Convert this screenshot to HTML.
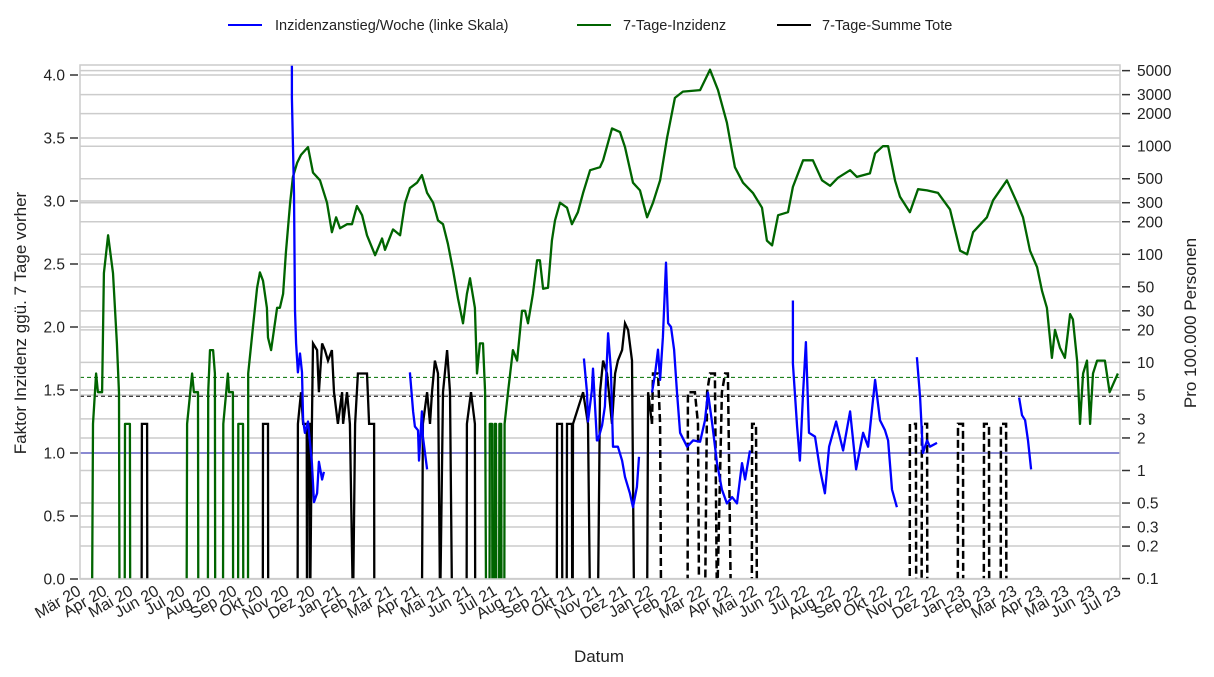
<!DOCTYPE html>
<html><head><meta charset="utf-8"><style>
html,body{margin:0;padding:0;background:#fff;}
svg{display:block;font-family:"Liberation Sans",Arial,sans-serif;}
</style></head><body>
<svg id="chart" width="1214" height="677" viewBox="0 0 1214 677" xmlns="http://www.w3.org/2000/svg">
<defs><clipPath id="clip"><rect x="80" y="65" width="1040" height="514"/></clipPath></defs>
<g id="grid"></g>
<g id="series" clip-path="url(#clip)"></g>
<rect x="80" y="65" width="1040" height="514" fill="none" stroke="#cccccc" stroke-width="1.5"/>
<g id="axes"></g>
<g>
 <g><line x1="228" y1="25" x2="262" y2="25" stroke="#0000ff" stroke-width="2"/><text x="275" y="30" font-size="14.5" fill="#222">Inzidenzanstieg/Woche (linke Skala)</text></g>
 <g><line x1="577" y1="25" x2="611" y2="25" stroke="#006400" stroke-width="2"/><text x="623" y="30" font-size="14.5" fill="#222">7-Tage-Inzidenz</text></g>
 <g><line x1="777" y1="25" x2="811" y2="25" stroke="#000" stroke-width="2"/><text x="822" y="30" font-size="14.5" fill="#222">7-Tage-Summe Tote</text></g>
</g>
<text x="599" y="662" font-size="17" text-anchor="middle" fill="#222">Datum</text>
<text transform="translate(26,323) rotate(-90)" font-size="17" text-anchor="middle" fill="#222">Faktor Inzidenz ggü. 7 Tage vorher</text>
<text transform="translate(1196,323) rotate(-90)" font-size="17" text-anchor="middle" fill="#222">Pro 100.000 Personen</text>
</svg>
<script>
const monthLabels = ["Mär 20","Apr 20","Mai 20","Jun 20","Jul 20","Aug 20","Sep 20","Okt 20","Nov 20","Dez 20","Jan 21","Feb 21","Mar 21","Apr 21","Mai 21","Jun 21","Jul 21","Aug 21","Sep 21","Okt 21","Nov 21","Dez 21","Jan 22","Feb 22","Mar 22","Apr 22","Mai 22","Jun 22","Jul 22","Aug 22","Sep 22","Okt 22","Nov 22","Dez 22","Jan 23","Feb 23","Mar 23","Apr 23","Mai 23","Jun 23","Jul 23"];
const leftTicks = [0,0.5,1,1.5,2,2.5,3,3.5,4];
const rightTicks = [0.1,0.2,0.3,0.5,1,2,3,5,10,20,30,50,100,200,300,500,1000,2000,3000,5000];
const greenRef = 1.6;
const blackRef = 1.45;
const unityRef = 1.0;
const dashFrom = 22.0;
// months since Mar 2020
const greenT = [0.46,0.5,0.62,0.69,0.85,0.92,1.08,1.27,1.42,1.5,1.52,1.72,1.73,1.92,1.93,4.1,4.12,4.31,4.38,4.54,4.55,4.92,4.93,5.0,5.12,5.19,5.2,5.5,5.51,5.69,5.73,5.88,5.89,6.08,6.09,6.27,6.28,6.46,6.47,6.65,6.81,6.92,7.04,7.19,7.23,7.35,7.42,7.58,7.69,7.81,7.92,8.08,8.19,8.35,8.5,8.77,8.96,9.23,9.5,9.69,9.85,10.0,10.27,10.46,10.65,10.85,11.04,11.35,11.62,11.73,12.04,12.31,12.5,12.69,12.96,13.15,13.35,13.58,13.77,13.96,14.15,14.35,14.54,14.73,14.88,15.0,15.19,15.27,15.38,15.5,15.58,15.62,15.75,15.76,15.85,15.86,15.94,15.95,16.0,16.01,16.12,16.13,16.2,16.21,16.32,16.33,16.46,16.65,16.81,17.0,17.12,17.23,17.42,17.58,17.69,17.81,18.0,18.15,18.27,18.46,18.73,18.92,19.15,19.35,19.62,20.0,20.12,20.46,20.77,20.96,21.27,21.54,21.81,22.04,22.31,22.58,22.88,23.19,23.85,24.23,24.54,24.88,25.19,25.5,25.88,26.23,26.42,26.62,26.85,27.23,27.42,27.81,28.19,28.54,28.85,29.15,29.62,29.88,30.38,30.58,30.88,31.08,31.35,31.54,31.92,32.23,32.58,33.0,33.46,33.85,34.12,34.35,34.88,35.12,35.65,36.04,36.27,36.54,36.81,37.0,37.19,37.38,37.5,37.69,37.88,38.08,38.19,38.35,38.46,38.58,38.73,38.85,38.96,39.12,39.42,39.6,39.92];
const greenV = [0.05,2.7,7.9,5.3,5.3,67,150,67,15,5.2,0.05,0.05,2.7,2.7,0.05,0.05,2.7,7.9,5.3,5.3,0.05,0.05,5.3,13,13,7.9,0.05,0.05,2.7,7.9,5.3,5.3,0.05,0.05,2.7,2.7,0.05,0.05,7.9,21,49,68,57,32,17,13,17,32,32,43,104,297,520,700,830,980,570,484,300,160,220,174,190,190,280,230,150,98,140,110,170,150,297,410,460,540,370,300,206,190,125,71,39,23,43,60,32,7.9,15,15,5.3,0.05,0.05,2.7,2.7,0.05,0.05,2.7,2.7,0.05,0.05,2.7,2.7,0.05,0.05,2.7,5.3,13,10.4,30,30,23,43,88,88,48,49,134,206,300,270,190,245,370,600,640,740,1460,1350,980,460,390,220,300,484,1200,2800,3200,3300,5100,3300,1650,640,460,370,270,134,121,230,245,420,740,740,484,430,510,600,520,560,860,1000,1000,480,340,245,400,390,370,260,108,100,160,220,316,484,300,220,108,76,46,32,11,20,13.7,11,28,25,10.4,2.7,7.9,10.4,2.7,7.9,10.4,10.4,5.3,7.9];
const blueT = [8.12,8.15,8.15,8.23,8.27,8.31,8.38,8.46,8.54,8.58,8.65,8.77,8.92,9.0,9.12,9.19,9.31,9.38,NaN,12.69,12.81,12.88,13.0,13.04,13.15,13.19,13.35,NaN,19.38,19.5,19.54,19.69,19.73,19.88,19.92,20.08,20.19,20.31,20.42,20.5,20.69,20.85,20.96,21.15,21.27,21.42,21.5,NaN,22.0,22.12,22.23,22.31,22.42,22.54,22.62,22.73,22.85,22.96,23.08,23.35,23.58,23.85,24.04,24.15,24.31,24.5,24.69,24.88,25.08,25.27,25.46,25.58,25.77,NaN,27.42,27.42,27.58,27.69,27.81,27.92,28.04,28.27,28.46,28.65,28.81,29.08,29.35,29.62,29.85,30.12,30.31,30.58,30.77,30.96,31.08,31.23,31.42,NaN,32.19,32.31,32.42,32.58,32.69,32.96,NaN,36.12,36.23,36.35,36.46,36.58];
const blueV = [4.3,4.06,3.82,3.06,2.13,1.87,1.64,1.79,1.64,1.26,1.16,1.25,0.92,0.61,0.68,0.93,0.79,0.85,NaN,1.64,1.33,1.21,1.18,0.94,1.33,1.13,0.87,NaN,1.75,1.48,1.25,1.5,1.67,1.1,1.1,1.22,1.37,1.95,1.66,1.05,1.05,0.94,0.81,0.68,0.57,0.73,0.97,NaN,1.48,1.63,1.82,1.58,1.92,2.51,2.03,2.0,1.82,1.48,1.16,1.05,1.1,1.09,1.26,1.48,1.24,0.92,0.71,0.6,0.65,0.6,0.92,0.79,1.02,NaN,2.21,1.71,1.21,0.94,1.48,1.88,1.16,1.13,0.87,0.68,1.05,1.25,1.02,1.33,0.87,1.16,1.05,1.58,1.26,1.18,1.1,0.71,0.57,NaN,1.76,1.44,1.0,1.1,1.05,1.08,NaN,1.44,1.3,1.26,1.1,0.87];
const blackT = [2.37,2.38,2.58,2.59,7.03,7.04,7.23,7.24,8.37,8.38,8.5,8.58,8.72,8.73,8.77,8.84,8.85,8.92,8.96,9.12,9.19,9.31,9.42,9.54,9.69,9.77,9.92,10.08,10.12,10.27,10.38,10.5,10.58,10.69,11.04,11.12,11.31,11.32,13.15,13.19,13.35,13.46,13.54,13.65,13.77,13.85,13.96,14.12,14.23,14.31,14.87,14.88,15.04,15.19,15.2,18.34,18.35,18.54,18.55,18.72,18.73,18.92,18.93,18.95,18.96,19.35,19.54,19.62,19.92,20.0,20.12,20.27,20.46,20.58,20.69,20.85,20.96,21.08,21.23,21.31,21.81,21.85,22.0,22.04,22.23,22.31,22.35,23.37,23.38,23.65,23.77,23.81,24.04,24.12,24.23,24.42,24.5,24.69,24.81,24.92,25.04,25.84,25.85,26.0,26.04,31.91,31.92,32.15,32.16,32.37,32.38,32.58,32.59,33.76,33.77,33.96,33.97,34.76,34.77,34.96,34.97,35.41,35.42,35.62,35.63];
const blackV = [0.05,2.7,2.7,0.05,0.05,2.7,2.7,0.05,0.05,2.7,5.3,2.7,2.7,0.05,2.7,2.7,0.05,2.7,15,13,5.3,15,13,10.4,13,5.3,2.7,5.3,2.7,5.3,2.7,0.05,2.7,7.9,7.9,2.7,2.7,0.05,0.05,2.7,5.3,2.7,5.3,10.4,7.9,0.05,5.3,13,5.3,0.05,0.05,2.7,5.3,2.7,0.05,0.05,2.7,2.7,0.05,0.05,2.7,2.7,0.05,0.05,2.7,5.3,2.7,0.05,0.05,5.3,10.4,7.9,2.7,7.9,10.4,13,23,20,10.4,0.05,0.05,5.3,2.7,7.9,7.9,2.7,0.05,0.05,5.3,5.3,2.7,0.05,0.05,5.3,7.9,7.9,0.05,5.3,7.9,7.9,0.05,0.05,2.7,2.7,0.05,0.05,2.7,2.7,0.05,0.05,2.7,2.7,0.05,0.05,2.7,2.7,0.05,0.05,2.7,2.7,0.05,0.05,2.7,2.7,0.05];

const NS = "http://www.w3.org/2000/svg";
const X0 = 80, X1 = 1120, Y0 = 579, Y1 = 65;
function xScale(m){ return X0 + m * (X1 - X0) / 40; }
function yLeft(v){ return Y0 - v * 126; }
function yRight(v){ return 470.5 - 108.1 * Math.log10(v); }
function mk(tag, attrs, parent){ const e = document.createElementNS(NS, tag); for (const k in attrs) e.setAttribute(k, attrs[k]); parent.appendChild(e); return e; }
const grid = document.getElementById('grid'), axes = document.getElementById('axes'), series = document.getElementById('series');

leftTicks.forEach(v => {
  const y = yLeft(v);
  const g = mk('line', {x1:X0, x2:X1, y1:y, y2:y, stroke:'#cccccc', 'stroke-width':1.5}, grid);
  
  
  const t = mk('line', {x1:70, x2:78, y1:y, y2:y, stroke:'#333', 'stroke-width':1.5}, axes);
  
  
  const l = mk('text', {x:65, y:y+5.5, 'font-size':15.5, 'text-anchor':'end', fill:'#222'}, axes);
  l.textContent = v.toFixed(1);
  
  
});
rightTicks.forEach(v => {
  const y = yRight(v);
  const g = mk('line', {x1:X0, x2:X1, y1:y, y2:y, stroke:'#cccccc', 'stroke-width':1.5}, grid);
  
  
  const t = mk('line', {x1:1122, x2:1130, y1:y, y2:y, stroke:'#333', 'stroke-width':1.5}, axes);
  
  
  const l = mk('text', {x:1137, y:y+5.5, 'font-size':15.5, fill:'#222'}, axes);
  l.textContent = String(v);
  
  
});
monthLabels.forEach((s, i) => {
  const x = xScale(i);
  const l = mk('text', {transform:`translate(${x+2},${594}) rotate(-30)`, 'font-size':16, 'text-anchor':'end', fill:'#222'}, axes);
  l.textContent = s;
  
  
});

function pathFrom(ts, vs, ys, filter){
  let d = '', pen = false;
  for (let i = 0; i < ts.length; i++){
    if (isNaN(ts[i]) || !filter(ts[i])) { pen = false; continue; }
    d += (pen ? 'L' : 'M') + xScale(ts[i]).toFixed(1) + ',' + ys(vs[i]).toFixed(1);
    pen = true;
  }
  return d;
}
const gl = mk('line', {x1:X0, x2:X1, y1:yLeft(greenRef), y2:yLeft(greenRef), stroke:'#007000', 'stroke-width':1, 'stroke-dasharray':'4,3'}, series);


const bl = mk('line', {x1:X0, x2:X1, y1:yLeft(blackRef), y2:yLeft(blackRef), stroke:'#000', 'stroke-width':1, 'stroke-dasharray':'4,3'}, series);


const ul = mk('line', {x1:X0, x2:X1, y1:yLeft(unityRef), y2:yLeft(unityRef), stroke:'#3030c0', 'stroke-width':1}, series);



const gp = mk('path', {d:pathFrom(greenT, greenV, yRight, t=>true), fill:'none', stroke:'#006400', 'stroke-width':2.3, 'stroke-linejoin':'round'}, series);


const bs = mk('path', {d:pathFrom(blackT, blackV, yRight, t=>t<=dashFrom), fill:'none', stroke:'#000', 'stroke-width':2.3}, series);


const bd = mk('path', {d:pathFrom(blackT, blackV, yRight, t=>t>=dashFrom), fill:'none', stroke:'#000', 'stroke-width':2.5, 'stroke-dasharray':'8,4'}, series);


const bp = mk('path', {d:pathFrom(blueT, blueV, yLeft, t=>true), fill:'none', stroke:'#0000ff', 'stroke-width':2.3, 'stroke-linejoin':'round'}, series);


</script>
</body></html>
